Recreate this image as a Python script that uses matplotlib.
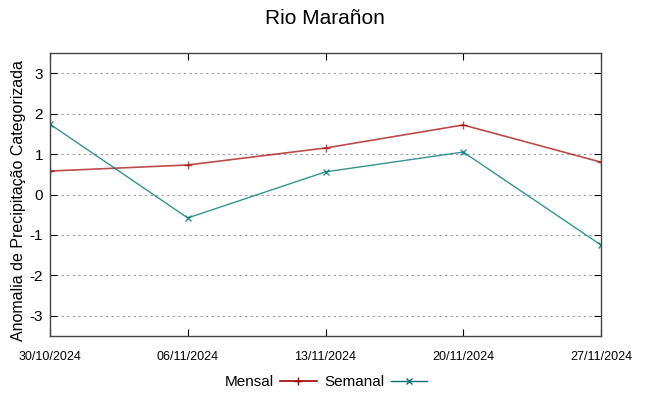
import matplotlib
matplotlib.use("Agg")
import matplotlib.pyplot as plt
from matplotlib import font_manager

names = {f.name for f in font_manager.fontManager.ttflist}
narrow = 'Liberation Sans Narrow' if 'Liberation Sans Narrow' in names else 'Liberation Sans'
plt.rcParams['font.family'] = [narrow, 'DejaVu Sans']

dates = ["30/10/2024", "06/11/2024", "13/11/2024", "20/11/2024", "27/11/2024"]
mensal = [0.58, 0.73, 1.15, 1.72, 0.80]
semanal = [1.74, -0.58, 0.56, 1.05, -1.25]
yticks = [-3, -2, -1, 0, 1, 2, 3]

fig = plt.figure(figsize=(6.49, 3.96), dpi=100)
ax = fig.add_axes([50/649, 1-336/396, (601-50)/649, (336-53)/396])

x = list(range(len(dates)))
ax.plot(x, mensal, color='#a00000', lw=1.2, marker='+', ms=6, mew=1.0, label='Mensal', alpha=0.7)
ax.plot(x, semanal, color='#007878', lw=1.0, marker='x', ms=5, mew=1.0, label='Semanal', alpha=0.8)

ax.set_xlim(0, 4)
ax.set_ylim(-3.5, 3.5)
ax.set_yticks(yticks)
ax.set_yticklabels([str(v) for v in yticks], fontsize=11, family=['Liberation Sans'])
ax.set_xticks(x)
ax.set_xticklabels(dates, fontsize=9)
ax.tick_params(axis='both', direction='in', length=5, color='black', top=True, right=True, left=True, bottom=True)
ax.tick_params(axis='x', pad=11)
ax.tick_params(axis='y', pad=5)
for sp in ax.spines.values():
    sp.set_color('#444444')
    sp.set_linewidth(1.0)
ax.grid(axis='y', linestyle=(0, (2, 3)), color='#999999', lw=0.8)
ax.set_axisbelow(True)
ax.set_ylabel('Anomalia de Precipitação Categorizada', fontsize=11.5, family=['Liberation Sans'])
ax.yaxis.set_label_coords(-0.044, 0.477)
fig.text(325/649, 1-19/396, 'Rio Marañon', ha='center', va='center', fontsize=15)

leg = fig.legend(loc='center', bbox_to_anchor=(326/649, 1-382/396), ncol=2, frameon=False,
                 markerfirst=False, fontsize=11, handlelength=2.4, columnspacing=0.5, handletextpad=0.4)
for line, c in zip(leg.get_lines(), ['#a00000', '#007070']):
    line.set_alpha(1.0)
    line.set_color(c)

fig.savefig('out.png', dpi=100)
